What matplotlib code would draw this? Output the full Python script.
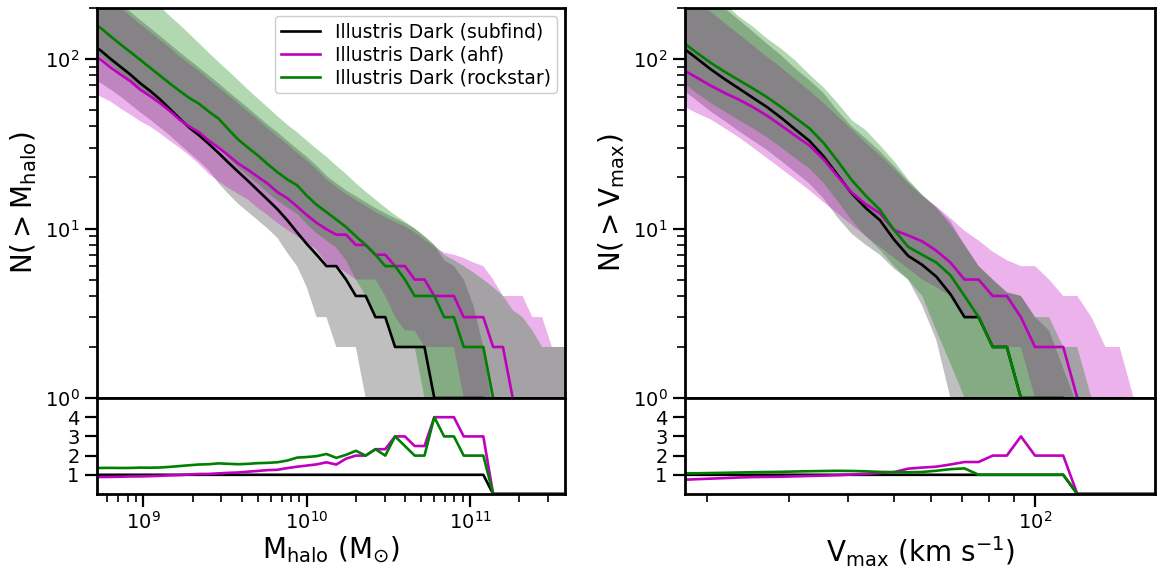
import numpy as np
import matplotlib
matplotlib.use("Agg")
import matplotlib.pyplot as plt
from matplotlib.ticker import LogLocator, NullFormatter, FixedLocator

# ---------------------------------------------------------------
# Cumulative halo counts, Illustris Dark, three halo finders
# ---------------------------------------------------------------

# left: mass bins (log10 M_halo / M_sun)
log_mass = np.round(np.arange(8.68, 11.63, 0.06), 2)

mass_subfind = [123, 112, 100, 90, 81, 72, 65, 58, 51, 44.7, 39.4, 35.5, 31.6, 27.9,
                24.5, 21.6, 19.1, 16.8, 14.8, 13.0, 11.2, 9.5, 8.1, 7.0,
                6, 6, 5, 4, 4, 3, 3, 2, 2, 2, 2,
                1, 1, 1, 1, 1, 1,
                0, 0, 0, 0, 0, 0, 0, 0, 0]
mass_subfind_lo = [78, 72, 66, 60, 54, 48.5, 44, 39.5, 35.5, 31.5, 28, 25, 22, 18.5,
                   16, 14, 12.5, 11.2, 10, 8.8, 7.2, 6, 4.5, 3, 3, 2, 2, 2, 1,
                   0, 0, 0, 0, 0, 0, 0, 0, 0, 0, 0, 0, 0, 0, 0, 0, 0, 0, 0, 0, 0]
mass_subfind_hi = [290, 260, 235, 212, 190, 170, 153, 137, 123, 110, 99, 89, 80, 72,
                   64, 57.5, 51.5, 46, 41, 37, 33, 29.5, 26.5, 23.5,
                   20.5, 18.5, 16.8, 15.5, 14.3, 13.2, 12.3, 11.5, 10.8, 10,
                   9, 8, 6.5, 6, 5, 3.5, 2, 0.8, 0, 0, 0, 0, 0, 0, 0, 0]

mass_ahf = [108, 99, 89, 81, 74, 66, 60.5, 55, 49.5, 44, 40, 37, 33, 30,
            27, 24.2, 22.2, 20.2, 18.4, 16.4, 15.1, 13.5, 12.0, 10.8,
            9.9, 9.2, 9.2, 8, 8, 7, 7, 6, 6, 5, 5, 4, 4, 4, 3, 3, 3, 2, 2, 1,
            0, 0, 0, 0, 0, 0]
mass_ahf_lo = [64, 60, 56, 51, 47, 43, 40, 36.5, 33, 30, 27, 24, 21, 19,
               17.3, 16, 14.8, 13.2, 12, 10.8, 9.8, 9, 8.2, 7.5,
               6.2, 6, 5.5, 5, 5, 5, 4, 3, 2.5, 2.5, 2, 2, 2, 2, 1,
               0, 0, 0, 0, 0, 0, 0, 0, 0, 0, 0]
mass_ahf_hi = [275, 247, 223, 201, 180, 161, 145, 130, 117, 104, 94, 85, 76, 68,
               61, 55, 49, 44, 39, 35, 31.4, 28, 25.2, 22.3,
               19.5, 17.6, 16, 14.7, 13.6, 12.5, 11.7, 10.9, 10.3, 9.5, 8.6, 7.8, 7.2, 7,
               6.7, 6.3, 6, 5, 4, 4, 4, 3, 3, 2, 2, 2]

mass_rockstar = [166, 152, 136, 122, 110, 99, 89, 80, 72, 65, 59, 54.5, 49, 44.5,
                 38.5, 33.5, 30, 27, 24, 21.5, 19.5, 18, 15.6, 13.8,
                 12.5, 11.3, 10.2, 9, 8, 7, 6, 6, 5, 4, 4, 4, 3, 3, 2, 2, 2, 1,
                 0, 0, 0, 0, 0, 0, 0, 0]
mass_rockstar_lo = [113, 103, 92.5, 83, 75, 67, 60.5, 54.5, 49, 44, 40, 37, 33.3, 30,
                    26, 22.8, 20.4, 18.4, 16.3, 14.6, 13.3, 12.2, 10.6, 9.4,
                    8.5, 7.7, 6.5, 5, 4, 3, 3, 2, 2, 2, 1,
                    0, 0, 0, 0, 0, 0, 0, 0, 0, 0, 0, 0, 0, 0, 0]
mass_rockstar_hi = [440, 395, 355, 320, 288, 258, 230, 205, 180, 160, 141, 124, 109, 96,
                    85, 75, 66, 58.5, 52, 46, 41, 37, 33, 29.5,
                    26.5, 23.5, 21, 18.5, 16.5, 14.8, 13.3, 12, 11, 10,
                    9, 8, 7, 6.5, 6, 5.5, 5, 4.5, 4, 3.3, 3, 2.5, 2, 2, 2, 2]

# right: circular velocity bins (log10 V_max / km s^-1)
log_vmax = np.round(np.arange(1.22, 2.28, 0.03), 2)

vmax_subfind = [135, 117, 101, 87, 76, 67, 59, 52, 45, 38.4, 32.9, 26.7, 20.7, 16.1,
                13.2, 11.2, 8.6, 6.9, 6.1, 5.2, 4.1, 3, 3, 2, 2, 1, 1, 1, 1,
                0, 0, 0, 0, 0, 0, 0]
vmax_subfind_lo = [76, 66, 57, 49, 43, 37.5, 33, 29, 25, 21.5, 18.4, 15, 11.6, 9.3,
                   8, 7, 5.8, 5, 3.5, 2.2, 1,
                   0, 0, 0, 0, 0, 0, 0, 0, 0, 0, 0, 0, 0, 0, 0]
vmax_subfind_hi = [380, 324, 275, 234, 199, 170, 145, 123, 105, 88, 75, 63, 49.5, 40,
                   34, 28.5, 23.4, 19, 15.8, 13.4, 11, 8, 6, 5, 4.2, 4, 3, 2.5, 1.5, 0.9,
                   0, 0, 0, 0, 0, 0]

vmax_ahf = [97, 86.6, 77.8, 69.6, 63, 57.6, 52, 46.3, 40.5, 35.3, 30.9, 25.6, 20.3, 16.3,
            13.9, 12.3, 9.8, 9.1, 8.4, 7.4, 6.3, 5, 5, 4, 4, 3, 2, 2, 2, 1,
            0, 0, 0, 0, 0, 0]
vmax_ahf_lo = [58, 53, 48, 44, 39, 34.5, 30, 26, 22.5, 19.5, 16.8, 14.3, 12.3, 10.5,
               9, 7.8, 6.7, 5.8, 5, 4.5, 4, 3, 3, 2, 2, 2, 1,
               0, 0, 0, 0, 0, 0, 0, 0, 0]
vmax_ahf_hi = [290, 250, 215, 190, 163, 140, 120, 103, 89, 76, 65, 55, 46, 38.5,
               32, 27, 22.5, 18.5, 15.5, 13.5, 11.5, 9.7, 8.5, 7.3, 6.5, 6, 6, 5, 4, 4,
               3, 2, 2, 1, 0, 0]

vmax_rockstar = [146, 126, 109, 95, 84, 75, 67, 59.5, 52, 45, 39, 32, 25, 19.3,
                 15.6, 12.9, 9.8, 7.8, 7.0, 6.3, 5.3, 4, 3, 2, 2, 1, 1, 1, 1,
                 0, 0, 0, 0, 0, 0, 0]
vmax_rockstar_lo = [85, 73, 63, 55, 49, 43.5, 39, 34.5, 30, 26, 22.6, 18.6, 14.5, 11.2,
                    9, 7.5, 6, 5, 4, 2.5, 1.6, 1,
                    0, 0, 0, 0, 0, 0, 0, 0, 0, 0, 0, 0, 0, 0]
vmax_rockstar_hi = [420, 355, 300, 250, 212, 178, 155, 132, 115, 98, 81, 68, 55, 43.6,
                    38, 31, 25, 19.5, 15.8, 13.2, 10.5, 8, 6, 5, 4.2, 4, 3, 3, 2, 2, 1,
                    0, 0, 0, 0, 0]

finders = ["subfind", "ahf", "rockstar"]
line_colors = {"subfind": "k", "ahf": "m", "rockstar": "g"}
band_colors = {"subfind": ("gray", 0.5), "ahf": ("m", 0.3), "rockstar": ("g", 0.3)}

mass_sets = {
    "subfind": (mass_subfind, mass_subfind_lo, mass_subfind_hi),
    "ahf": (mass_ahf, mass_ahf_lo, mass_ahf_hi),
    "rockstar": (mass_rockstar, mass_rockstar_lo, mass_rockstar_hi),
}
vmax_sets = {
    "subfind": (vmax_subfind, vmax_subfind_lo, vmax_subfind_hi),
    "ahf": (vmax_ahf, vmax_ahf_lo, vmax_ahf_hi),
    "rockstar": (vmax_rockstar, vmax_rockstar_lo, vmax_rockstar_hi),
}

plt.rcParams["font.family"] = ["DejaVu Sans"]
plt.rcParams["mathtext.fontset"] = "dejavusans"

fig = plt.figure(figsize=(11.6, 5.7), dpi=100)
W, H = 1160.0, 570.0


def frame(x0, x1):
    top = fig.add_axes([x0 / W, 1 - 398 / H, (x1 - x0) / W, 390 / H])
    bot = fig.add_axes([x0 / W, 1 - 494 / H, (x1 - x0) / W, 96 / H], sharex=top)
    return top, bot


def style(ax):
    for s in ax.spines.values():
        s.set_linewidth(2.0)
    ax.tick_params(which="major", length=9, width=1.6, labelsize=14, direction="out")
    ax.tick_params(which="minor", length=5.5, width=1.2, direction="out")


def panel(ax, axr, x, sets, xlim, xlabel, ylabel):
    for f in finders:
        mean, lo, hi = (np.asarray(v, float) for v in sets[f])
        c, a = band_colors[f]
        ax.fill_between(x, lo, hi, color=c, alpha=a, lw=0)
    ref = np.asarray(sets["subfind"][0], float)
    for f in finders:
        mean = np.asarray(sets[f][0], float)
        ax.plot(x, mean, color=line_colors[f], lw=1.9,
                label=f"Illustris Dark ({f})")
        ratio = np.divide(mean, ref, out=np.zeros_like(mean), where=ref > 0)
        axr.plot(x, ratio, color=line_colors[f], lw=1.9)

    ax.set_xscale("log")
    ax.set_yscale("log")
    ax.set_xlim(*xlim)
    ax.set_ylim(1, 200)
    ax.set_ylabel(ylabel, fontsize=20)

    axr.set_ylim(0, 5)
    axr.yaxis.set_major_locator(FixedLocator([1, 2, 3, 4]))
    axr.set_xlabel(xlabel, fontsize=20, labelpad=1)
    axr.xaxis.set_major_locator(LogLocator(base=10))
    axr.xaxis.set_minor_locator(LogLocator(base=10, subs=np.arange(2, 10)))
    axr.xaxis.set_minor_formatter(NullFormatter())
    style(ax)
    style(axr)
    ax.tick_params(axis="x", which="both", bottom=False, labelbottom=False)


ax1, ax1r = frame(97, 565)
ax2, ax2r = frame(685, 1155)

panel(ax1, ax1r, 10 ** log_mass, mass_sets, (5.2e8, 3.8e11),
      r"$\mathrm{M_{halo}\ (M_{\odot})}$", r"$\mathrm{N(>M_{halo})}$")
panel(ax2, ax2r, 10 ** log_vmax, vmax_sets, (18, 180),
      r"$\mathrm{V_{max}\ (km\ s^{-1})}$", r"$\mathrm{N(>V_{max})}$")

ax1.legend(loc="upper right", fontsize=13.5, labelspacing=0.22, handlelength=2.1,
           borderpad=0.3, borderaxespad=0.45, edgecolor="#cccccc", framealpha=1.0)

fig.savefig("out.png", dpi=100)
